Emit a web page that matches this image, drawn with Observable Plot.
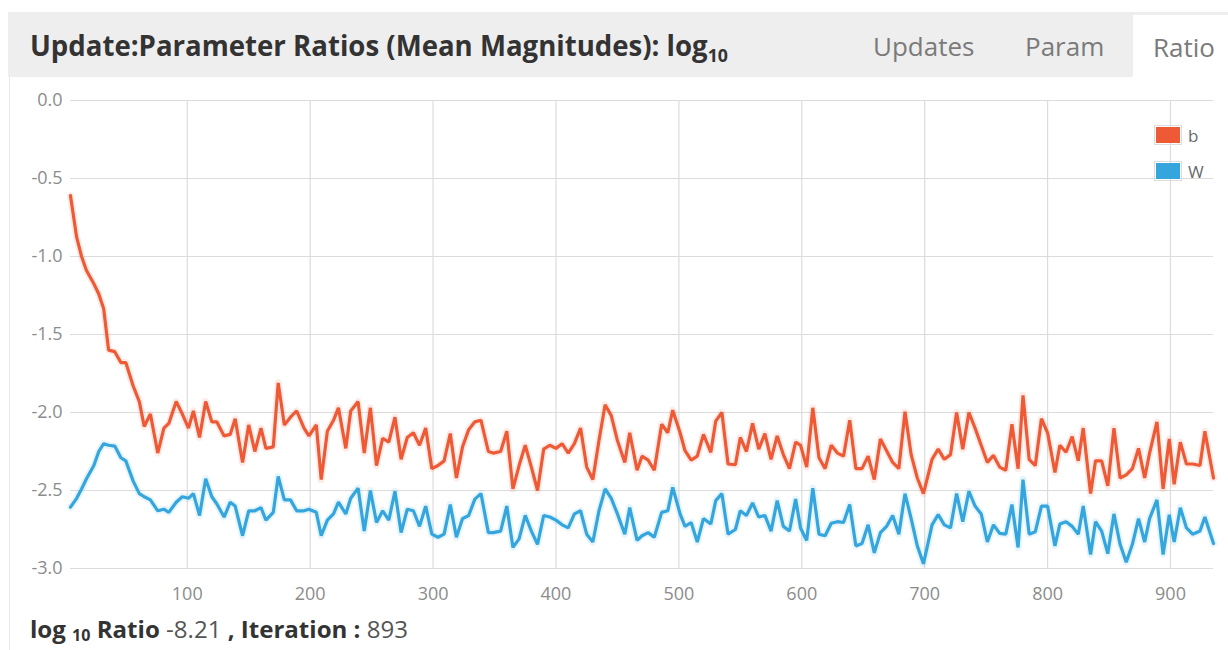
<!DOCTYPE html>
<html>
<head>
<meta charset="utf-8">
<script src="https://cdn.jsdelivr.net/npm/d3@7"></script>
<script src="https://cdn.jsdelivr.net/npm/@observablehq/plot@0.6"></script>
<style>
  html, body { margin: 0; padding: 0; background: #fff; }
  body { width: 1228px; height: 650px; position: relative; overflow: hidden; font-family: "Open Sans", sans-serif; }
  #header { position: absolute; left: 8px; top: 12px; width: 1220px; height: 65px; background: #eeeeee; }
  #title { position: absolute; left: 30px; top: 12px; height: 65px; line-height: 66px; font-size: 28px; font-weight: 700; color: #333; white-space: nowrap; transform-origin: left center; }
  #title sub { font-size: 18px; vertical-align: -6px; line-height: 0; }
  .tab { position: absolute; top: 12px; height: 65px; line-height: 68px; font-size: 26px; color: #7a7a7a; white-space: nowrap; }
  #tabRatio { left: 1133px; width: 95px; top: 15px; height: 62px; background: #fff; line-height: 64px; padding-left: 20px; box-sizing: border-box; }
  #panelBorder { position: absolute; left: 9px; top: 77px; width: 1px; height: 573px; background: #e6e6e6; }
  #chart { position: absolute; left: 0; top: 80px; }
  #legend { position: absolute; left: 1154px; top: 117px; font-size: 17px; color: #6a6a6a; }
  .lg { display: flex; align-items: center; height: 36px; }
  .sw { width: 24px; height: 16px; border: 1px solid #ddd; padding: 1px; margin-right: 6px; box-sizing: content-box; }
  .sw div { width: 100%; height: 100%; }
  #footer { position: absolute; left: 30px; top: 612px; font-size: 24px; color: #333; white-space: nowrap; transform-origin: left center; }
  #footer b { font-weight: 700; }
  #footer .n { color: #555; font-weight: 400; }
  #footer sub { font-size: 16px; vertical-align: -3px; line-height: 0; font-weight: 700; }
</style>
</head>
<body>
<div id="header"></div>
<div id="title">Update:Parameter Ratios (Mean Magnitudes): log<sub>10</sub></div>
<div class="tab" style="left:873px">Updates</div>
<div class="tab" style="left:1025px">Param</div>
<div class="tab" id="tabRatio">Ratio</div>
<div id="panelBorder"></div>
<div id="chart"></div>
<div id="legend"></div>
<div id="footer"><b>log <sub>10</sub> Ratio</b> <span class="n">-8.21</span> <b>, Iteration :</b> <span class="n">893</span></div>
<script>
// ---- data ----
const seriesNames = ["b", "W"];
const seriesColors = ["#ee5a36", "#34a6dd"];
const xTicks = [100, 200, 300, 400, 500, 600, 700, 800, 900];
const yTicks = [0, -0.5, -1.0, -1.5, -2.0, -2.5, -3.0];

const iterations = [5,10,14,18,24,28,32,36,41,46,50,56,61,65,70,76,81,85,91,96,
  101,105,110,115,120,124,130,135,139,145,150,155,160,164,170,174,179,184,189,195,
  199,205,209,214,219,223,229,233,239,244,249,254,259,264,269,274,279,284,289,294,
  299,304,309,314,319,324,329,334,339,345,349,355,360,365,370,375,380,385,390,395,
  400,405,410,415,420,425,430,435,440,445,450,456,460,466,470,475,480,486,491,495,
  501,505,510,515,520,526,530,535,540,546,550,555,560,565,570,575,580,585,590,595,
  599,604,609,614,619,624,629,634,639,644,649,654,659,664,669,674,679,684,689,694,
  699,706,711,716,721,726,731,736,741,746,751,756,761,766,771,776,780,785,790,795,
  800,806,810,815,820,825,829,835,839,844,849,854,859,864,869,874,879,883,889,894,
  899,903,908,913,918,924,928,935];

const bValues = [-0.61,-0.876,-1.0,-1.09,-1.175,-1.24,-1.335,-1.6,-1.61,-1.68,-1.68,-1.83,-1.93,-2.09,-2.01,-2.26,-2.1,-2.07,-1.93,-2.01,
  -2.1,-1.99,-2.16,-1.93,-2.06,-2.06,-2.15,-2.14,-2.04,-2.32,-2.08,-2.25,-2.1,-2.23,-2.22,-1.81,-2.08,-2.03,-1.99,-2.1,
  -2.15,-2.08,-2.43,-2.12,-2.05,-1.97,-2.23,-1.99,-1.93,-2.26,-1.97,-2.34,-2.165,-2.19,-2.03,-2.3,-2.16,-2.13,-2.21,-2.1,
  -2.36,-2.34,-2.31,-2.135,-2.42,-2.22,-2.11,-2.06,-2.05,-2.25,-2.26,-2.25,-2.12,-2.49,-2.34,-2.21,-2.35,-2.5,-2.235,-2.21,
  -2.23,-2.2,-2.26,-2.2,-2.1,-2.35,-2.43,-2.18,-1.95,-2.02,-2.18,-2.32,-2.13,-2.37,-2.28,-2.305,-2.37,-2.075,-2.13,-1.985,
  -2.13,-2.245,-2.305,-2.28,-2.14,-2.255,-2.055,-2.0,-2.33,-2.335,-2.16,-2.25,-2.07,-2.235,-2.135,-2.3,-2.15,-2.27,-2.36,-2.19,
  -2.21,-2.35,-1.97,-2.29,-2.36,-2.21,-2.26,-2.28,-2.05,-2.36,-2.36,-2.28,-2.43,-2.17,-2.245,-2.32,-2.36,-1.995,-2.27,-2.42,
  -2.52,-2.3,-2.235,-2.3,-2.27,-2.0,-2.235,-2.0,-2.1,-2.21,-2.32,-2.275,-2.35,-2.37,-2.075,-2.36,-1.89,-2.3,-2.34,-2.04,
  -2.13,-2.385,-2.21,-2.255,-2.155,-2.31,-2.1,-2.52,-2.31,-2.31,-2.47,-2.1,-2.42,-2.4,-2.36,-2.23,-2.42,-2.26,-2.06,-2.49,
  -2.17,-2.46,-2.19,-2.33,-2.33,-2.34,-2.12,-2.42];

const wValues = [-2.607,-2.55,-2.49,-2.425,-2.34,-2.25,-2.2,-2.21,-2.215,-2.29,-2.31,-2.44,-2.52,-2.54,-2.56,-2.63,-2.62,-2.64,-2.575,-2.54,
  -2.55,-2.52,-2.66,-2.425,-2.54,-2.585,-2.67,-2.575,-2.6,-2.79,-2.63,-2.63,-2.61,-2.69,-2.64,-2.41,-2.56,-2.56,-2.63,-2.63,
  -2.62,-2.64,-2.79,-2.69,-2.65,-2.575,-2.65,-2.55,-2.485,-2.76,-2.5,-2.705,-2.63,-2.69,-2.505,-2.77,-2.62,-2.63,-2.73,-2.6,
  -2.78,-2.8,-2.78,-2.59,-2.8,-2.68,-2.66,-2.555,-2.52,-2.77,-2.77,-2.76,-2.6,-2.865,-2.81,-2.66,-2.76,-2.845,-2.66,-2.67,
  -2.69,-2.72,-2.74,-2.65,-2.63,-2.78,-2.83,-2.63,-2.49,-2.55,-2.65,-2.78,-2.61,-2.82,-2.79,-2.77,-2.8,-2.64,-2.63,-2.48,
  -2.65,-2.73,-2.705,-2.83,-2.68,-2.715,-2.565,-2.52,-2.78,-2.75,-2.63,-2.66,-2.58,-2.67,-2.66,-2.76,-2.565,-2.73,-2.76,-2.555,
  -2.74,-2.82,-2.485,-2.78,-2.79,-2.71,-2.7,-2.705,-2.59,-2.855,-2.84,-2.72,-2.9,-2.77,-2.73,-2.66,-2.78,-2.52,-2.68,-2.855,
  -2.97,-2.72,-2.655,-2.72,-2.74,-2.52,-2.7,-2.505,-2.6,-2.65,-2.83,-2.72,-2.775,-2.78,-2.59,-2.865,-2.43,-2.78,-2.765,-2.6,
  -2.6,-2.855,-2.715,-2.7,-2.73,-2.78,-2.6,-2.91,-2.7,-2.76,-2.905,-2.65,-2.845,-2.96,-2.845,-2.68,-2.83,-2.68,-2.56,-2.91,
  -2.655,-2.83,-2.61,-2.74,-2.78,-2.76,-2.67,-2.84];

// ---- build table ----
const rows = [];
[bValues, wValues].forEach((vals, si) => {
  vals.forEach((v, i) => rows.push({series: seriesNames[si], iteration: iterations[i], value: v}));
});

const chart = Plot.plot({
  width: 1228,
  height: 530,
  marginLeft: 70,
  marginRight: 15,
  marginTop: 20,
  marginBottom: 42,
  style: {fontFamily: "'Open Sans', sans-serif", fontSize: "18px", color: "#8c8c8c", background: "transparent"},
  x: {domain: [5, 935], label: null},
  y: {domain: [-3, 0], label: null},
  color: {domain: seriesNames, range: seriesColors},
  marks: [
    Plot.gridY(yTicks, {stroke: "#dcdcdc", strokeOpacity: 1, strokeWidth: 1.2}),
    Plot.gridX(xTicks, {stroke: "#dcdcdc", strokeOpacity: 1, strokeWidth: 1.2}),
    Plot.axisY(yTicks, {tickSize: 0, tickPadding: 8, tickFormat: d => d.toFixed(1), fill: "#8c8c8c"}),
    Plot.axisX(xTicks, {tickSize: 0, tickPadding: 19, tickFormat: d => String(d), fill: "#8c8c8c"}),
    Plot.line(rows, {x: "iteration", y: "value", z: "series", stroke: "series", strokeWidth: 7, strokeOpacity: 0.12}),
    Plot.line(rows, {x: "iteration", y: "value", z: "series", stroke: "series", strokeWidth: 3.2, strokeLinejoin: "miter"})
  ]
});
document.getElementById("chart").appendChild(chart);

// legend
const lg = document.getElementById("legend");
seriesNames.forEach((n, i) => {
  const row = document.createElement("div");
  row.className = "lg";
  row.innerHTML = `<div class="sw"><div style="background:${seriesColors[i]}"></div></div><span>${n}</span>`;
  lg.appendChild(row);
});

// fit header/footer text widths to reference
const t = document.getElementById("title");
const w = t.getBoundingClientRect().width;
t.style.transform = `scaleX(${698 / w})`;
const f = document.getElementById("footer");
const fw = f.getBoundingClientRect().width;
f.style.transform = `scaleX(${378 / fw})`;
</script>
</body>
</html>
